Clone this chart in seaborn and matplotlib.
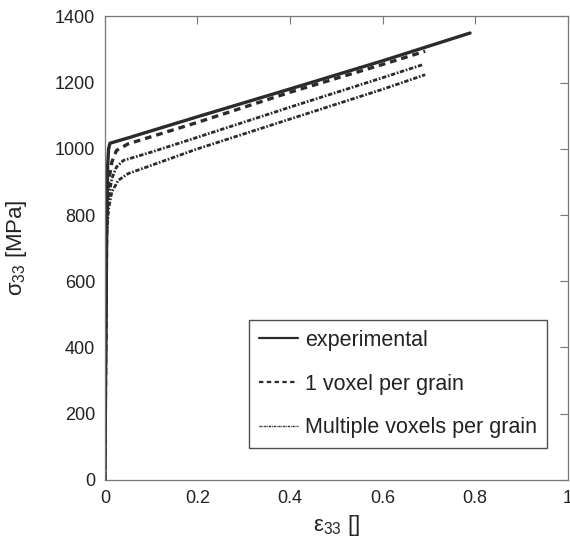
import matplotlib
matplotlib.use("Agg")
from matplotlib import pyplot as plt
import seaborn as sns
import pandas as pd

# curvas tensao-deformacao
exp_x = [0, 0.002, 0.004, 0.006, 0.008, 0.011, 0.05, 0.2, 0.4, 0.6, 0.789]
exp_y = [0, 400, 780, 950, 1000, 1017, 1033, 1097, 1181, 1266, 1350]

one_x = [0, 0.002, 0.004, 0.008, 0.015, 0.025, 0.05, 0.2, 0.4, 0.6, 0.692]
one_y = [0, 400, 790, 900, 960, 995, 1015, 1080, 1171, 1255, 1295]

multi1_x = [0, 0.002, 0.004, 0.008, 0.015, 0.025, 0.04, 0.1, 0.2, 0.4, 0.6, 0.688]
multi1_y = [0, 400, 760, 850, 910, 945, 965, 990, 1035, 1126, 1215, 1255]

multi2_x = [0, 0.002, 0.004, 0.008, 0.015, 0.029, 0.05, 0.1, 0.2, 0.4, 0.6, 0.692]
multi2_y = [0, 380, 740, 820, 870, 905, 925, 950, 1000, 1090, 1180, 1224]

x_ticks = [0, 0.2, 0.4, 0.6, 0.8, 1]
x_labels = ['0', '0.2', '0.4', '0.6', '0.8', '1']
y_ticks = [0, 200, 400, 600, 800, 1000, 1200, 1400]

sns.set_style("white")
plt.rcParams['font.family'] = ['Liberation Sans', 'DejaVu Sans']
plt.rcParams['mathtext.fontset'] = 'custom'
plt.rcParams['mathtext.rm'] = 'Liberation Sans'
plt.rcParams['mathtext.it'] = 'Liberation Sans'
plt.rcParams['mathtext.default'] = 'regular'

fig = plt.figure(figsize=(5.7, 5.49), dpi=100)
ax = fig.add_axes([0.184, 0.126, 0.812, 0.844])

col = '#2b2b2b'
sns.lineplot(x=exp_x, y=exp_y, ax=ax, color=col, lw=2.4, sort=False,
             label='experimental')
sns.lineplot(x=one_x, y=one_y, ax=ax, color=col, lw=2.4, sort=False,
             label='1 voxel per grain', dashes=False)
ax.lines[-1].set_dashes([2.0, 1.5])
sns.lineplot(x=multi1_x, y=multi1_y, ax=ax, color=col, lw=2.0, sort=False,
             label='Multiple voxels per grain')
ax.lines[-1].set_dashes([1.6, 0.6, 0.6, 0.6])
sns.lineplot(x=multi2_x, y=multi2_y, ax=ax, color=col, lw=2.0, sort=False)
ax.lines[-1].set_dashes([1.6, 0.6, 0.6, 0.6])

ax.set_xlim(0, 1)
ax.set_ylim(0, 1400)
ax.set_xticks(x_ticks)
ax.set_xticklabels(x_labels)
ax.set_yticks(y_ticks)
ax.tick_params(direction='in', length=6, width=0.8, color='#777777',
               labelsize=13, labelcolor='#222222', top=True, right=True, pad=7)
for s in ax.spines.values():
    s.set_color('#777777')
    s.set_linewidth(0.9)

ax.set_xlabel(r'$\varepsilon_{33}$ []', fontsize=16, color='#222222')
ax.set_ylabel(r'$\sigma_{33}$ [MPa]', fontsize=16, color='#222222')
ax.xaxis.set_label_coords(0.5, -0.072)
ax.yaxis.set_label_coords(-0.165, 0.5)

leg = ax.legend(loc='lower right', bbox_to_anchor=(0.955, 0.069), fontsize=15.5,
                frameon=True, fancybox=False, handlelength=1.8, handletextpad=0.35,
                labelspacing=1.05, borderpad=0.45, borderaxespad=0)
leg.get_frame().set_edgecolor('#222222')
leg.get_frame().set_linewidth(1.0)
leg.legend_handles[0].set_linewidth(1.6)
leg.legend_handles[1].set_linewidth(1.6)
leg.legend_handles[2].set_linewidth(1.0)
for t in leg.get_texts():
    t.set_color('#222222')

fig.savefig('out.png', dpi=100)
